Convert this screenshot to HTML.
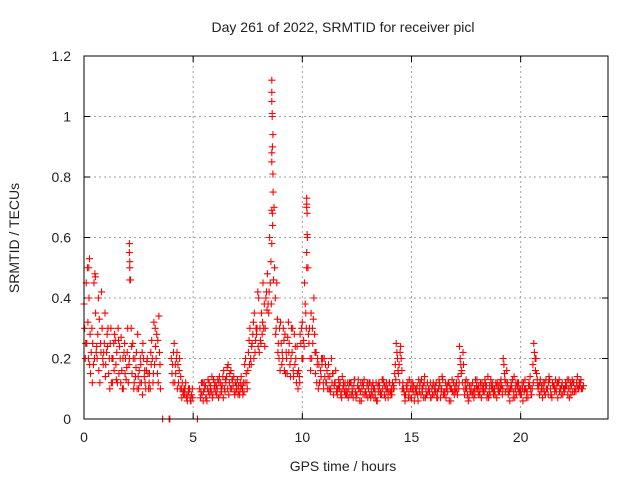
<!DOCTYPE html>
<html><head><meta charset="utf-8"><style>
body{margin:0;background:#fff;}
svg{display:block;font-family:"Liberation Sans",sans-serif;}
</style></head><body>
<svg id="chart" width="640" height="480" viewBox="0 0 640 480">
<rect width="640" height="480" fill="#fff"/>
<text x="343" y="32" font-size="14" text-anchor="middle" fill="#222">Day 261 of 2022, SRMTID for receiver picl</text>
<text x="343" y="471" font-size="14" text-anchor="middle" fill="#222">GPS time / hours</text>
<text transform="translate(19,238) rotate(-90)" font-size="14" text-anchor="middle" fill="#222">SRMTID / TECUs</text>
<g id="grid"></g>
<g id="ticks"></g>
<g id="marks"></g>
<rect x="84" y="56" width="524" height="363" fill="none" stroke="#000" stroke-width="1"/>
</svg>
<script>
const xTicks=[0,5,10,15,20];
const yTicks=[0,0.2,0.4,0.6,0.8,1,1.2];
const yTickLabels=["0","0.2","0.4","0.6","0.8","1","1.2"];
const t0=0, step=0.1;
const v1=[.38,.45,.2,.15,.25,.48,.2,.33,.42,.22,
.18,.3,.25,.12,.28,.22,.15,.27,.1,.2,
.3,.52,.15,.12,.22,.1,.18,.25,.12,.2,
.15,.26,.32,.2,.12,.1,0,null,null,0,
.2,.22,.15,.18,.1,.12,.08,.07,.09,.06,
null,null,0,.1,.08,.12,.07,.09,.11,.08,
.12,.1,.14,.09,.16,.12,.18,.1,.13,.08,
.1,.09,.14,.12,.2,.16,.3,.25,.35,.28,
.4,.25,.45,.3,.48,.6,1.05,.7,.3,.25,
.32,.2,.28,.15,.25,.3,.14,.2,.1,.28,
.32,.45,.7,.25,.35,.33,.15,.2,.12,.18,
.2,.12,.18,.1,.15,.12,.08,.1,.07,.11,
.1,.07,.12,.09,.13,.08,.1,.06,.11,.09,
.07,.12,.08,.1,.06,.12,.09,.13,.07,.1,
.12,.08,.1,.25,.15,.24,.12,.06,.1,.13,
.07,.11,.1,.06,.12,.09,.14,.08,.1,.07,
.12,.09,.07,.11,.14,.08,.1,.12,.06,.09,
.11,.08,.24,.16,.1,.13,.06,.09,.12,.08,
.13,.09,.07,.11,.1,.14,.08,.12,.1,.07,
.11,.13,.2,.09,.12,.06,.1,.14,.08,.12,
.1,.06,.13,.09,.11,.08,.25,.2,.1,.13,
.07,.12,.1,.14,.08,.11,.13,.07,.1,.12,
.09,.11,.13,.08,.12,.1,.14,.11,.1];
const v2=[.3,.25,.4,.22,.18,.35,.28,.12,.3,.25,
.22,.15,.3,.2,.26,.12,.24,.16,.22,.13,
.12,.46,.25,.2,.1,.16,.12,.2,.1,.15,
.1,.2,.18,.28,.34,null,null,null,null,0,
.15,.25,.2,.12,.14,.09,.1,.06,.1,.08,
null,null,null,.07,.12,.1,.06,.12,.09,.13,
.09,.13,.08,.11,.1,.14,.08,.16,.11,.12,
.13,.08,.11,.09,.15,.22,.2,.28,.22,.3,
.22,.35,.3,.4,.38,.45,.9,.5,.45,.2,
.25,.3,.15,.27,.18,.22,.28,.12,.16,.25,
.2,.38,.6,.3,.2,.4,.22,.1,.16,.2,
.14,.16,.1,.2,.08,.16,.1,.12,.14,.09,
.08,.1,.12,.07,.09,.11,.06,.1,.13,.08,
.1,.07,.12,.09,.06,.11,.08,.12,.1,.07,
.09,.12,.15,.22,.18,.2,.1,.08,.12,.07,
.1,.06,.09,.13,.08,.11,.07,.12,.09,.1,
.08,.12,.1,.07,.13,.09,.11,.06,.1,.12,
.09,.14,.2,.12,.08,.1,.07,.11,.09,.13,
.1,.08,.12,.09,.11,.07,.13,.1,.08,.12,
.09,.11,.18,.12,.08,.1,.13,.07,.11,.09,
.08,.12,.1,.07,.14,.1,.22,.15,.11,.09,
.12,.08,.1,.13,.07,.11,.09,.12,.1,.08,
.1,.13,.07,.11,.12,.09,.1,.12,.1];
const v3=[.2,.5,.18,.3,.45,.22,.4,.25,.2,.35,
.28,.2,.12,.25,.18,.3,.2,.1,.25,.17,
.18,.3,.2,.14,.28,.12,.22,.14,.16,.1,
.22,.12,.3,.15,.22,null,null,null,null,null,
.18,.12,.22,.16,.1,.08,.12,.08,.07,.1,
null,null,null,.09,.06,.11,.1,.08,.14,.1,
.11,.07,.12,.14,.09,.17,.12,.1,.14,.09,
.08,.12,.1,.18,.12,.26,.18,.32,.26,.42,
.3,.28,.38,.42,.35,.52,.75,.4,.33,.3,
.18,.26,.22,.32,.14,.3,.18,.24,.14,.3,
.26,.35,.5,.2,.3,.28,.12,.18,.14,.12,
.18,.1,.14,.12,.11,.09,.13,.08,.1,.12,
.09,.12,.08,.11,.07,.13,.09,.12,.08,.11,
.12,.09,.1,.07,.11,.09,.13,.08,.12,.09,
.08,.1,.18,.2,.12,.16,.09,.11,.07,.1,
.12,.08,.11,.09,.13,.07,.1,.09,.12,.08,
.1,.07,.13,.09,.08,.12,.09,.11,.13,.08,
.12,.1,.18,.22,.12,.08,.11,.09,.07,.1,
.08,.12,.1,.13,.07,.09,.11,.08,.12,.1,
.12,.08,.15,.16,.1,.12,.07,.1,.12,.1,
.12,.09,.07,.11,.1,.18,.2,.13,.08,.11,
.1,.13,.08,.1,.12,.09,.11,.13,.08,.1,
.12,.08,.1,.13,.09,.12,.1,.13];
const v4=[.25,.32,.28,.12,.2,.24,.16,.22,.18,.14,
.24,.1,.2,.16,.13,.26,.12,.2,.15,.22,
.2,.24,.1,.17,.14,.2,.08,.16,.19,.12,
.18,.15,.24,.26,.18,null,null,null,null,null,
.12,.18,.1,.2,.07,.1,.08,.1,.06,.07,
null,null,null,.12,.09,.07,.13,.1,.07,.11,
.08,.12,.1,.07,.13,.1,.15,.13,.09,.11,
.11,.1,.08,.12,.1,.18,.24,.2,.3,.24,
.26,.32,.24,.36,.42,.38,.46,.28,.22,.16,
.22,.16,.2,.22,.2,.16,.24,.15,.12,.2,
.24,.3,.28,.16,.25,.22,.18,.12,.2,.1,
.12,.14,.09,.15,.12,.1,.11,.09,.12,.08,
.12,.08,.1,.13,.08,.1,.12,.08,.09,.12,
.08,.11,.07,.12,.09,.08,.1,.11,.09,.12,
.1,.11,.13,.16,.22,.1,.08,.1,.09,.12,
.09,.1,.08,.11,.1,.12,.08,.1,.07,.11,
.11,.09,.12,.1,.09,.07,.12,.1,.09,.1,
.1,.12,.15,.18,.1,.12,.09,.08,.1,.11,
.11,.1,.09,.12,.08,.11,.1,.09,.11,.09,
.1,.1,.13,.1,.09,.11,.09,.12,.1,.08,
.1,.1,.09,.12,.08,.12,.16,.11,.12,.1,
.09,.1,.12,.08,.11,.1,.12,.09,.11,.1,
.11,.1,.12,.09,.1,.11,.12,.1,.11];
const spikeTimes=[8.6,8.6,8.62,8.62,8.65,8.6,8.6,8.65,8.6,8.63,8.64,8.6,10.2,10.2,10.22,10.22,10.2,10.2,2.08,2.08,2.1,2.1,0.25,0.22,0.5,0.52];
const spikeValues=[1.12,1.08,1.01,1.0,0.94,0.88,0.85,0.81,0.69,0.68,0.64,0.58,0.73,0.71,0.68,0.61,0.55,0.5,0.58,0.55,0.5,0.46,0.53,0.5,0.48,0.47];

const L=84,R=608,T=56,B=419,XMAX=24,YMAX=1.2;
const xs=v=>L+(v/XMAX)*(R-L);
const ys=v=>B-(v/YMAX)*(B-T);
const NS="http://www.w3.org/2000/svg";
const grid=document.getElementById('grid'),ticks=document.getElementById('ticks'),marks=document.getElementById('marks');
function mk(tag,attrs,parent){const e=document.createElementNS(NS,tag);for(const k in attrs)e.setAttribute(k,attrs[k]);parent.appendChild(e);return e;}
xTicks.forEach(v=>{
  const x=xs(v);
  if(v>0){const g=mk('line',{x1:x,y1:T,x2:x,y2:B,stroke:'#a0a0a0','stroke-dasharray':'2,3'},grid);
  
  }
  mk('line',{x1:x,y1:B,x2:x,y2:B-6,stroke:'#000'},ticks);
  mk('line',{x1:x,y1:T,x2:x,y2:T+6,stroke:'#000'},ticks);
  const t=mk('text',{x:x,y:442,'font-size':14,'text-anchor':'middle',fill:'#222'},ticks);
  t.textContent=String(v);
  
  
});
yTicks.forEach((v,i)=>{
  const y=ys(v);
  if(v>0&&v<YMAX){const g=mk('line',{x1:L,y1:y,x2:R,y2:y,stroke:'#a0a0a0','stroke-dasharray':'2,3'},grid);
  
  }
  mk('line',{x1:L,y1:y,x2:L+6,y2:y,stroke:'#000'},ticks);
  mk('line',{x1:R,y1:y,x2:R-6,y2:y,stroke:'#000'},ticks);
  const t=mk('text',{x:71,y:y+5,'font-size':14,'text-anchor':'end',fill:'#222'},ticks);
  t.textContent=yTickLabels[i];
  
  
});
let d='';
function add(t,v){if(v===null||v===undefined)return;const x=xs(t),y=ys(v);d+=`M${(x-3.5).toFixed(1)} ${y.toFixed(1)}h7M${x.toFixed(1)} ${(y-3.5).toFixed(1)}v7`;}
v1.forEach((v,i)=>add(t0+i*step,v));
v2.forEach((v,i)=>add(t0+i*step+0.03,v));
v3.forEach((v,i)=>add(t0+i*step+0.06,v));
v4.forEach((v,i)=>add(t0+i*step+0.08,v));
spikeValues.forEach((v,i)=>add(spikeTimes[i],v));
const p=mk('path',{d:d,stroke:'#ff0000','stroke-width':1.1,fill:'none'},marks);


</script>
</body></html>
